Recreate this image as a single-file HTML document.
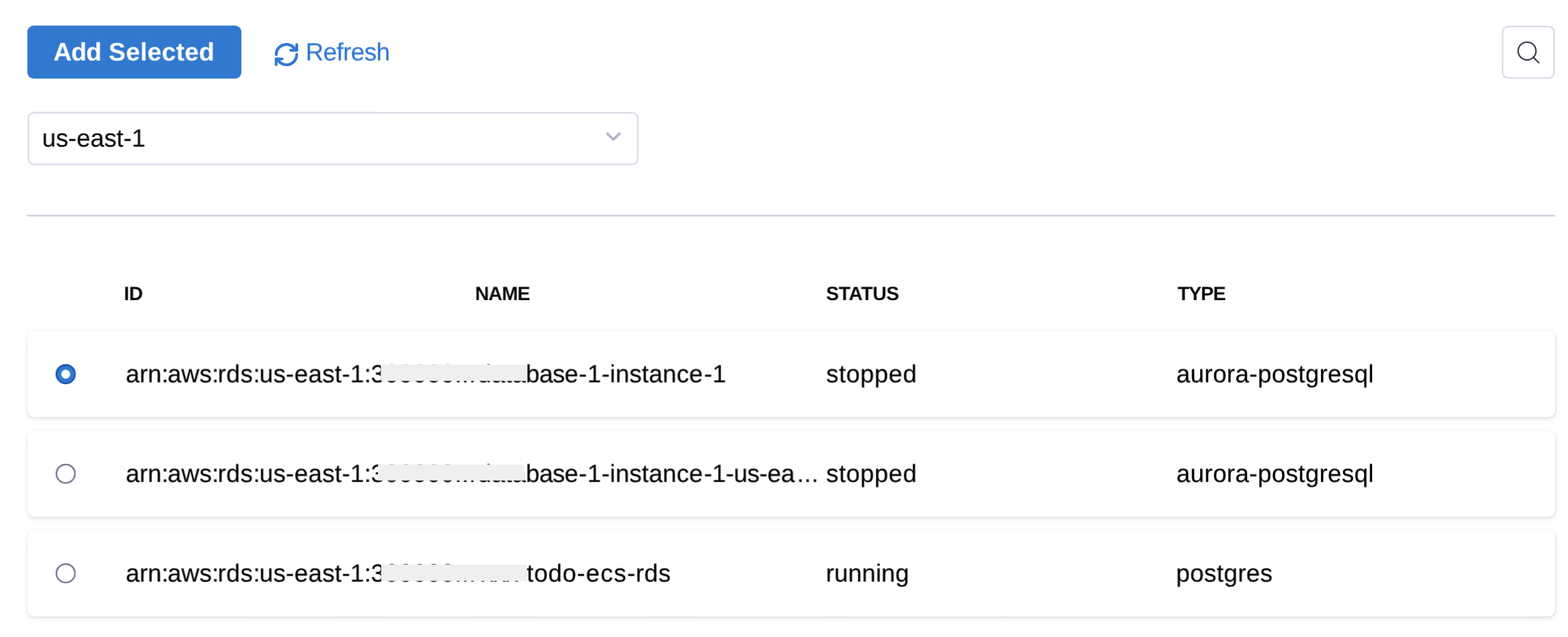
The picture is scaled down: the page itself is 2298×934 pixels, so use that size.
<!DOCTYPE html>
<html lang="en">
<head>
<meta charset="utf-8">
<title>Select RDS instances</title>
<style>
  html, body { margin: 0; padding: 0; background: #ffffff; }
  body {
    position: relative; width: 2298px; height: 934px; overflow: hidden;
    font-family: "Liberation Sans", sans-serif; color: #0b0b0d;
  }
  .t {
    position: absolute; white-space: pre; line-height: 40px; height: 40px;
    text-rendering: geometricPrecision; will-change: transform;
    -webkit-text-stroke: 0.2px currentColor;
  }
  svg { position: absolute; overflow: visible; will-change: transform; }

  /* toolbar */
  .btn-primary { position: absolute; background: #3178cf; border-radius: 9px; }
  .add-label { color: #ffffff; font-weight: 700; -webkit-text-stroke: 0px currentColor; }
  .refresh-label { color: #3178cf; }
  .boxed {
    position: absolute; border-radius: 7px; background: #ffffff;
    box-shadow: 0 0 0 2.3px #d9dae6;
  }
  .divider { position: absolute; background: #cdd0de; }
  .btn-primary, .boxed, .divider, .card, .radio, .redact { transform-origin: 0 0; will-change: transform; }

  /* table */
  .th { font-weight: 700; color: #0b0b0d; -webkit-text-stroke: 0px currentColor; }
  .card {
    position: absolute; background: #ffffff; border-radius: 10px;
    box-shadow: 0 0 4px rgba(30,30,30,0.05), 0 2px 4px rgba(60,60,60,0.11), 0 5px 10px rgba(60,60,60,0.04);
  }
  .c { color: #050506; }
  .pre { position: absolute; right: 100%; top: 0; }
  .radio {
    position: absolute; border-radius: 50%; background: #ffffff;
    box-shadow: inset 0 0 0 2.2px #6b6d85;
  }
  .radio.on {
    background: radial-gradient(circle closest-side, #ffffff 0, #ffffff 5.8px, #3178cf 7px);
    box-shadow: inset 0 0 0 2.1px #1a50ab;
  }
  .redact { position: absolute; background: #efefef; }
</style>
</head>
<body>

<div class="toolbar">
  <div class="btn-primary" style="left:40px;top:37px;width:314px;height:78px;transform:translate(0.1px,0.6px) rotate(0.001deg) scale(0.99904,0.99615)"></div>
  <span class="t add-label" role="button" style="left:78px;top:55px;font-size:37.3px;transform:translate(0.27px,0.8px) rotate(0.001deg)"><span style="letter-spacing:-0.86px">Add </span><span style="letter-spacing:0.23px;margin-left:1.68px">Selected</span></span>
  <svg class="refresh-icon" style="left:395px;top:55px" width="50" height="50" viewBox="0 0 50 50" aria-hidden="true">
    <g fill="none" stroke="#3178cf" stroke-width="4.1" stroke-linecap="round" stroke-linejoin="round">
      <path d="M9.75 25.2 A15 15 0 0 1 38.4 18.9 L39.9 18.6"/>
      <path d="M39.9 10.3 V18.6 H31"/>
      <g transform="rotate(180 24.8 25.05)">
        <path d="M9.75 25.2 A15 15 0 0 1 38.4 18.9 L39.9 18.6"/>
        <path d="M39.9 10.3 V18.6 H31"/>
      </g>
    </g>
  </svg>
  <span class="t refresh-label" role="button" style="left:447px;top:56px;font-size:36.4px;transform:translate(0.93px,0.6px) rotate(0.001deg)"><span style="letter-spacing:-0.62px">Refresh</span></span>
  <div class="boxed btn-search" role="button" aria-label="Search" style="left:2203px;top:39px;width:73px;height:73px;transform:translate(0.3px,0.9px) rotate(0.001deg) scale(1.00137,1.00411)"></div>
  <svg class="search-icon" style="left:2213px;top:50px" width="50" height="50" viewBox="0 0 50 50" aria-hidden="true">
    <g fill="none" stroke="#383946" stroke-width="2.15" stroke-linecap="round">
      <circle cx="25" cy="24.8" r="13.05"/>
      <path d="M34.4 34.3 L42.2 42"/>
    </g>
  </svg>
</div>

<div class="region">
  <div class="boxed select" role="combobox" aria-label="Region" style="left:42px;top:166px;width:891px;height:73px;transform:translate(0.6px,0.5px) rotate(0.001deg) scale(0.99989,1.00274)"></div>
  <span class="t select-value" style="left:61px;top:183px;font-size:36.4px;transform:translate(0.7px,0px) rotate(0.001deg)"><span style="letter-spacing:-0.03px">us-east-1</span></span>
  <svg class="chevron" style="left:879px;top:180px" width="40" height="40" viewBox="0 0 40 40" aria-hidden="true">
    <path d="M11.2 16 L20 24.7 L28.8 16" fill="none" stroke="#b2b3c5" stroke-width="3.8" stroke-linecap="round" stroke-linejoin="miter"/>
  </svg>
</div>

<div class="divider" role="separator" style="left:40px;top:314px;width:2239px;height:3px;transform:translate(0.1px,0.95px) rotate(0.001deg) scale(0.99996,0.85)"></div>

<div class="table" role="table">
  <div class="thead" role="row">
      <span class="t th" role="columnheader" style="left:181px;top:411px;font-size:28.4px;transform:translate(0.59px,0.1px) rotate(0.001deg)"><span style="letter-spacing:-0.45px">ID</span></span>
      <span class="t th" role="columnheader" style="left:696px;top:411px;font-size:28.4px;transform:translate(0.29px,0.1px) rotate(0.001deg)"><span style="letter-spacing:-0.89px">NAME</span></span>
      <span class="t th" role="columnheader" style="left:1210px;top:411px;font-size:28.4px;transform:translate(0.62px,0.1px) rotate(0.001deg)"><span style="letter-spacing:-0.42px">STATUS</span></span>
      <span class="t th" role="columnheader" style="left:1725px;top:411px;font-size:28.4px;transform:translate(0.82px,0.1px) rotate(0.001deg)"><span style="letter-spacing:-1.1px">TYPE</span></span>
  </div>
  <div class="tbody" role="rowgroup">
    <div class="tr" role="row">
      <div class="card" style="left:40px;top:484px;width:2239px;height:127px;transform:translate(0.2px,0.9px) rotate(0.001deg) scale(1.00004,0.99764)"></div>
      <span class="radio on" role="radio" aria-checked="true" style="left:81px;top:533px;width:29px;height:29px;transform:translate(0.6px,0.9px) rotate(0.001deg) scale(1.01379,1.01379)"></span>
      <span class="t c" role="cell" style="left:184px;top:528px;font-size:36.4px;transform:translate(0.31px,0.6px) rotate(0.001deg)"><span style="letter-spacing:-0.04px">arn:</span><span style="letter-spacing:0.13px;margin-left:-1.32px">aws:</span><span style="letter-spacing:0.48px;margin-left:-1.91px">rds:</span><span style="letter-spacing:0.24px;margin-left:-1.6px">us-east-1:</span><span style="letter-spacing:0.24px;margin-left:-0.57px">3</span><span aria-hidden="true" style="letter-spacing:0.24px">00000...</span></span>
      <span class="t c" role="cell" style="left:770px;top:528px;font-size:36.4px;transform:translate(0.59px,0.6px) rotate(0.001deg)"><span class="pre" aria-hidden="true" style="letter-spacing:0px">data</span><span style="letter-spacing:-0.61px">base</span><span style="letter-spacing:0.56px;margin-left:1.0px">-1-</span><span style="letter-spacing:0.09px;margin-left:-0.36px">instance</span><span style="letter-spacing:0.09px;margin-left:1.8px">-</span><span style="letter-spacing:0.09px;margin-left:-0.12px">1</span></span>
      <span class="t c" role="cell" style="left:1210px;top:528px;font-size:36.4px;transform:translate(0.74px,0.6px) rotate(0.001deg)"><span style="letter-spacing:0.52px">stopped</span></span>
      <span class="t c" role="cell" style="left:1724px;top:528px;font-size:36.4px;transform:translate(0.01px,0.6px) rotate(0.001deg)"><span style="letter-spacing:0.26px">aurora-postgresql</span></span>
      <span class="redact" aria-hidden="true" style="left:558px;top:534px;width:213px;height:24px;transform:translate(0.2px,0.8px) rotate(0.001deg) scale(1.00047,0.9875)"></span>
    </div>
    <div class="tr" role="row">
      <div class="card" style="left:40px;top:631px;width:2239px;height:127px;transform:translate(0.2px,0.05px) rotate(0.001deg) scale(1.00004,0.99764)"></div>
      <span class="radio" role="radio" aria-checked="false" style="left:81px;top:679px;width:29px;height:29px;transform:translate(0.6px,0.9px) rotate(0.001deg) scale(1.01379,1.01379)"></span>
      <span class="t c" role="cell" style="left:184px;top:674px;font-size:36.4px;transform:translate(0.31px,0.7px) rotate(0.001deg)"><span style="letter-spacing:-0.04px">arn:</span><span style="letter-spacing:0.13px;margin-left:-1.32px">aws:</span><span style="letter-spacing:0.48px;margin-left:-1.91px">rds:</span><span style="letter-spacing:0.24px;margin-left:-1.6px">us-east-1:</span><span style="letter-spacing:0.24px;margin-left:-0.57px">3</span><span aria-hidden="true" style="letter-spacing:0.24px">00000...</span></span>
      <span class="t c" role="cell" style="left:770px;top:674px;font-size:36.4px;transform:translate(0.58px,0.7px) rotate(0.001deg)"><span class="pre" aria-hidden="true" style="letter-spacing:0px">data</span><span style="letter-spacing:-0.61px">base</span><span style="letter-spacing:0.56px;margin-left:1.01px">-1-</span><span style="letter-spacing:0.09px;margin-left:-0.35px">instance</span><span style="letter-spacing:-0.39px;margin-left:1.81px">-1-us-ea</span><span style="letter-spacing:0.48px;margin-left:3.74px">...</span></span>
      <span class="t c" role="cell" style="left:1210px;top:674px;font-size:36.4px;transform:translate(0.74px,0.7px) rotate(0.001deg)"><span style="letter-spacing:0.52px">stopped</span></span>
      <span class="t c" role="cell" style="left:1724px;top:674px;font-size:36.4px;transform:translate(0.01px,0.7px) rotate(0.001deg)"><span style="letter-spacing:0.26px">aurora-postgresql</span></span>
      <span class="redact" aria-hidden="true" style="left:554px;top:681px;width:214px;height:23px;transform:translate(0px,0.2px) rotate(0.001deg) scale(1.00047,1.01739)"></span>
    </div>
    <div class="tr" role="row">
      <div class="card" style="left:40px;top:777px;width:2239px;height:127px;transform:translate(0.2px,0.2px) rotate(0.001deg) scale(1.00004,0.99764)"></div>
      <span class="radio" role="radio" aria-checked="false" style="left:81px;top:825px;width:29px;height:29px;transform:translate(0.6px,0.9px) rotate(0.001deg) scale(1.01379,1.01379)"></span>
      <span class="t c" role="cell" style="left:184px;top:820px;font-size:36.4px;transform:translate(0.31px,0.8px) rotate(0.001deg)"><span style="letter-spacing:-0.04px">arn:</span><span style="letter-spacing:0.13px;margin-left:-1.32px">aws:</span><span style="letter-spacing:0.48px;margin-left:-1.91px">rds:</span><span style="letter-spacing:0.24px;margin-left:-1.6px">us-east-1:</span><span style="letter-spacing:0.24px;margin-left:-0.57px">3</span><span aria-hidden="true" style="letter-spacing:0.24px">00000...</span></span>
      <span class="t c" role="cell" style="left:771px;top:820px;font-size:36.4px;transform:translate(0.86px,0.8px) rotate(0.001deg)"><span class="pre" aria-hidden="true" style="letter-spacing:0px">xxx-</span><span style="letter-spacing:0.6px">todo</span><span style="letter-spacing:1.27px;margin-left:0.15px">-ecs-</span><span style="letter-spacing:0.41px;margin-left:-0.76px">rds</span></span>
      <span class="t c" role="cell" style="left:1210px;top:820px;font-size:36.4px;transform:translate(0.38px,0.8px) rotate(0.001deg)"><span style="letter-spacing:0.09px">running</span></span>
      <span class="t c" role="cell" style="left:1723px;top:820px;font-size:36.4px;transform:translate(0.57px,0.8px) rotate(0.001deg)"><span style="letter-spacing:0.28px">postgres</span></span>
      <span class="redact" aria-hidden="true" style="left:558px;top:828px;width:213px;height:24px;transform:translate(0.6px,0px) rotate(0.001deg) scale(1.00188,0.99167)"></span>
    </div>
  </div>
</div>

</body>
</html>
